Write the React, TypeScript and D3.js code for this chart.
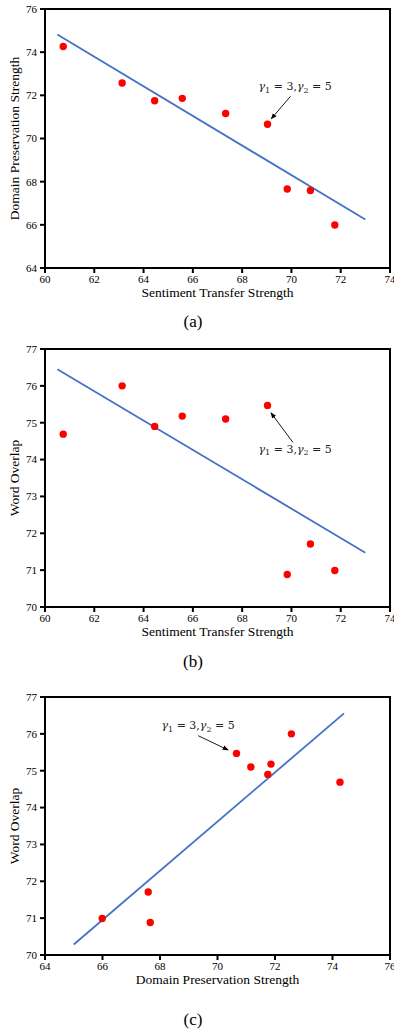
import React from "react";
import * as d3 from "d3";

// ---- data ----
const sentimentTransfer = [60.74, 63.13, 64.45, 65.57, 67.33, 69.03, 69.83, 70.77, 71.76];
const domainPreservation = [74.26, 72.57, 71.75, 71.86, 71.16, 70.66, 67.66, 67.59, 65.99];
const wordOverlap = [74.69, 76.0, 74.9, 75.18, 75.1, 75.47, 70.88, 71.71, 70.99];
const highlightIndex = 5; // gamma1 = 3, gamma2 = 5

const ticksSentiment = [60, 62, 64, 66, 68, 70, 72, 74];
const ticksDomainY = [64, 66, 68, 70, 72, 74, 76];
const ticksOverlap = [70, 71, 72, 73, 74, 75, 76, 77];
const ticksDomainX = [64, 66, 68, 70, 72, 74, 76];

const fitRangeA = [60.5, 73];
const fitRangeB = [60.5, 73];
const fitRangeC = [65, 74.4];

const labelSentiment = "Sentiment Transfer Strength";
const labelDomain = "Domain Preservation Strength";
const labelOverlap = "Word Overlap";

function regression(xs: number[], ys: number[]) {
  const mx = d3.mean(xs)!;
  const my = d3.mean(ys)!;
  let sxy = 0, sxx = 0;
  xs.forEach((x, i) => {
    sxy += (x - mx) * (ys[i] - my);
    sxx += (x - mx) * (x - mx);
  });
  const b = sxy / sxx;
  return (x: number) => my + b * (x - mx);
}

const LEFT = 45;
const RIGHT = 390;
const SERIF = "'Liberation Serif', 'Times New Roman', serif";

type PanelProps = {
  top: number;
  bottom: number;
  xs: number[];
  ys: number[];
  xTicks: number[];
  yTicks: number[];
  xLabel: string;
  yLabel: string;
  fitRange: number[];
  caption: string;
  captionY: number;
  tail: [number, number];
  tip: [number, number];
  textOff: [number, number];
  id: string;
};

function Gamma({ x, y }: { x: number; y: number }) {
  return (
    <text x={x} y={y} fontFamily="'DejaVu Serif', 'Liberation Serif', serif" fontSize={11} fill="#222">
      <tspan fontStyle="italic">γ</tspan>
      <tspan fontSize={8} dy={2.5}>1</tspan>
      <tspan dy={-2.5}> = 3,</tspan>
      <tspan fontStyle="italic">γ</tspan>
      <tspan fontSize={8} dy={2.5}>2</tspan>
      <tspan dy={-2.5}> = 5</tspan>
    </text>
  );
}

function Panel(p: PanelProps) {
  const x = d3.scaleLinear().domain([p.xTicks[0], p.xTicks[p.xTicks.length - 1]]).range([LEFT, RIGHT]);
  const y = d3.scaleLinear().domain([p.yTicks[0], p.yTicks[p.yTicks.length - 1]]).range([p.bottom, p.top]);
  const f = regression(p.xs, p.ys);
  const line = d3.line<number>().x((d) => x(d)).y((d) => y(f(d)));
  const hx = x(p.xs[highlightIndex]);
  const hy = y(p.ys[highlightIndex]);
  const midY = (p.top + p.bottom) / 2;
  return (
    <g>
      <path d={line(p.fitRange) || ""} stroke="#4472C4" strokeWidth={1.8} fill="none" />
      {p.xs.map((v, i) => (
        <circle key={i} cx={x(v)} cy={y(p.ys[i])} r={3.7} fill="#FF0000" />
      ))}
      {/* frame */}
      <rect x={LEFT} y={p.top} width={RIGHT - LEFT} height={p.bottom - p.top} fill="none" stroke="#000" strokeWidth={2} />
      {p.yTicks.map((t) => (
        <g key={"y" + t}>
          <line x1={LEFT - 5} x2={LEFT} y1={y(t)} y2={y(t)} stroke="#000" strokeWidth={2} />
          <text x={LEFT - 8} y={y(t)} dy="0.35em" textAnchor="end" fontFamily={SERIF} fontSize={11} fill="#000">
            {t}
          </text>
        </g>
      ))}
      {p.xTicks.map((t) => (
        <g key={"x" + t}>
          <line x1={x(t)} x2={x(t)} y1={p.bottom} y2={p.bottom + 5} stroke="#000" strokeWidth={2} />
          <text x={x(t)} y={p.bottom + 15} textAnchor="middle" fontFamily={SERIF} fontSize={11} fill="#000">
            {t}
          </text>
        </g>
      ))}
      <text x={(LEFT + RIGHT) / 2} y={p.bottom + 29} textAnchor="middle" fontFamily={SERIF} fontSize={13.5} fill="#000">
        {p.xLabel}
      </text>
      <text
        transform={`translate(19,${midY}) rotate(-90)`}
        textAnchor="middle"
        fontFamily={SERIF}
        fontSize={13.5}
        fill="#000"
      >
        {p.yLabel}
      </text>
      {/* annotation */}
      <line
        x1={hx + p.tail[0]}
        y1={hy + p.tail[1]}
        x2={hx + p.tip[0]}
        y2={hy + p.tip[1]}
        stroke="#000"
        strokeWidth={0.9}
        markerEnd={`url(#arrow-${p.id})`}
      />
      <defs>
        <marker id={`arrow-${p.id}`} viewBox="0 0 10 10" refX={9} refY={5} markerWidth={6} markerHeight={6} markerUnits="userSpaceOnUse" orient="auto">
          <path d="M0,1 L10,5 L0,9 z" fill="#000" />
        </marker>
      </defs>
      <Gamma x={hx + p.textOff[0]} y={hy + p.textOff[1]} />
      <text x={193} y={p.captionY} textAnchor="middle" fontFamily={SERIF} fontSize={17} fill="#000">
        {p.caption}
      </text>
    </g>
  );
}

export default function App() {
  return (
    <svg width={394} height={1034} style={{ position: "absolute", left: 0, top: 0, background: "#fff" }}>
      <rect width={394} height={1034} fill="#fff" />
      <Panel
        id="a"
        top={9}
        bottom={268}
        xs={sentimentTransfer}
        ys={domainPreservation}
        xTicks={ticksSentiment}
        yTicks={ticksDomainY}
        xLabel={labelSentiment}
        yLabel={labelDomain}
        fitRange={fitRangeA}
        caption="(a)"
        captionY={327}
        tail={[23, -28]}
        tip={[3.7, -5.4]}
        textOff={[-9, -34]}
      />
      <Panel
        id="b"
        top={349}
        bottom={607}
        xs={sentimentTransfer}
        ys={wordOverlap}
        xTicks={ticksSentiment}
        yTicks={ticksOverlap}
        xLabel={labelSentiment}
        yLabel={labelOverlap}
        fitRange={fitRangeB}
        caption="(b)"
        captionY={667}
        tail={[25.4, 37]}
        tip={[3.4, 7.4]}
        textOff={[-9, 47.4]}
      />
      <Panel
        id="c"
        top={697}
        bottom={955}
        xs={domainPreservation}
        ys={wordOverlap}
        xTicks={ticksDomainX}
        yTicks={ticksOverlap}
        xLabel={labelDomain}
        yLabel={labelOverlap}
        fitRange={fitRangeC}
        caption="(c)"
        captionY={1025}
        tail={[-38.3, -17.7]}
        tip={[-8.3, -3.4]}
        textOff={[-75, -24]}
      />
    </svg>
  );
}
